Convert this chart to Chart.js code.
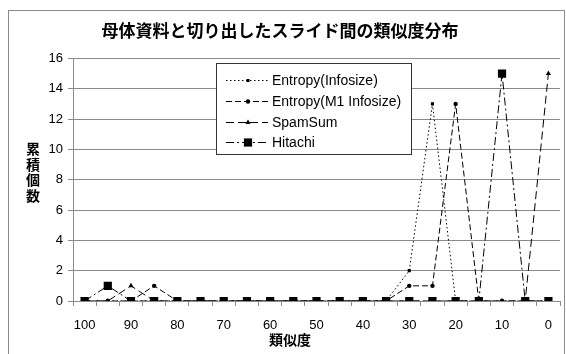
<!DOCTYPE html>
<html>
<head>
<meta charset="utf-8">
<script src="https://cdn.jsdelivr.net/npm/chart.js@4/dist/chart.umd.min.js"></script>
<style>
  html, body { margin: 0; padding: 0; background: #fff; }
  #wrap { position: relative; width: 566px; height: 354px; }
</style>
</head>
<body>
<div id="wrap"><canvas id="c" width="566" height="354"></canvas></div>
<script>
// Similarity buckets (100 → 0, step 5)
const categories = [100, 95, 90, 85, 80, 75, 70, 65, 60, 55, 50, 45, 40, 35, 30, 25, 20, 15, 10, 5, 0];
// Cumulative counts per method
const entropyInfosize   = [0, 0, 0, 0, 0, 0, 0, 0, 0, 0, 0, 0, 0, 0, 2, 13, 0, 0, 0, 0, 0];
const entropyM1Infosize = [0, 0, 0, 1, 0, 0, 0, 0, 0, 0, 0, 0, 0, 0, 1, 1, 13, 0, 0, 0, 0];
const spamSum           = [0, 0, 1, 0, 0, 0, 0, 0, 0, 0, 0, 0, 0, 0, 0, 0, 0, 0, 0, 0, 15];
const hitachi           = [0, 1, 0, 0, 0, 0, 0, 0, 0, 0, 0, 0, 0, 0, 0, 0, 0, 0, 15, 0, 0];
const yTicks = [0, 2, 4, 6, 8, 10, 12, 14, 16];

const titleText = '母体資料と切り出したスライド間の類似度分布';
const xTitle = '類似度';
const yTitle = '累積個数';

const JP = '"Noto Sans CJK JP", sans-serif';
const LAT = '"Liberation Sans", Arial, sans-serif';

const datasets = [
  { label: 'Entropy(Infosize)', data: entropyInfosize, borderDash: [1.5, 2.5],
    pointStyle: 'rect', pointRadius: 2.2, order: 3 },
  { label: 'Entropy(M1 Infosize)', data: entropyM1Infosize, borderDash: [6, 3],
    pointStyle: 'circle', pointRadius: 2.2, order: 2 },
  { label: 'SpamSum', data: spamSum, borderDash: [8, 4],
    pointStyle: 'triangle', pointRadius: 3, order: 1 },
  { label: 'Hitachi', data: hitachi, borderDash: [8, 3, 2, 3],
    pointStyle: 'rect', pointRadius: 5.8, order: 0 }
].map(d => Object.assign({
  borderColor: '#000', backgroundColor: '#000', pointBackgroundColor: '#000',
  pointBorderColor: '#000', pointBorderWidth: 0, borderWidth: 1, tension: 0, fill: false
}, d));

// Frame, axis titles (upright stacked y title) and boxed legend
const decor = {
  id: 'decor',
  beforeDraw(chart) {
    const ctx = chart.ctx;
    ctx.save();
    ctx.fillStyle = '#fff';
    ctx.fillRect(0, 0, chart.width, chart.height);
    ctx.strokeStyle = '#8a8a8a';
    ctx.lineWidth = 1;
    ctx.strokeRect(8.5, 10.5, 556, 400);
    ctx.restore();
  },
  afterDraw(chart) {
    const ctx = chart.ctx;
    ctx.save();
    ctx.fillStyle = '#000';
    ctx.font = 'bold 14px ' + JP;
    ctx.textAlign = 'center';
    ctx.textBaseline = 'middle';
    ctx.fillText(xTitle, 290, 340);
    const chars = Array.from(yTitle);
    const step = 15.5;
    const y0 = 172 - step * (chars.length - 1) / 2;
    chars.forEach((ch, i) => ctx.fillText(ch, 33, y0 + i * step));

    // legend box
    const bx = 216.5, by = 63.5, bw = 195, bh = 91;
    ctx.fillStyle = '#fff';
    ctx.fillRect(bx, by, bw, bh);
    ctx.strokeStyle = '#333';
    ctx.lineWidth = 1;
    ctx.strokeRect(bx, by, bw, bh);
    const rows = [80, 101, 122, 142];
    chart.data.datasets.forEach((ds, i) => {
      const y = rows[i];
      ctx.save();
      ctx.strokeStyle = '#000';
      ctx.lineWidth = 1;
      ctx.setLineDash(ds.borderDash);
      ctx.beginPath();
      ctx.moveTo(226, y + 0.5);
      ctx.lineTo(268, y + 0.5);
      ctx.stroke();
      ctx.restore();
      ctx.fillStyle = '#000';
      Chart.helpers.drawPoint(ctx, {
        pointStyle: ds.pointStyle, radius: ds.pointRadius, rotation: 0, borderWidth: 0
      }, 248, y + 0.5);
      ctx.fillStyle = '#000';
      ctx.font = '14px ' + LAT;
      ctx.textAlign = 'left';
      ctx.textBaseline = 'middle';
      ctx.fillText(ds.label, 272, y + 1);
    });
    ctx.restore();
  }
};

new Chart(document.getElementById('c'), {
  type: 'line',
  data: { labels: categories, datasets },
  options: {
    responsive: false,
    animation: false,
    devicePixelRatio: 1,
    layout: { padding: { left: 0, right: 6, top: 0, bottom: 0 } },
    plugins: {
      legend: { display: false },
      tooltip: { enabled: false },
      title: {
        display: true, text: titleText, color: '#000',
        font: { family: JP, size: 17, weight: 'bold', lineHeight: 1.2 },
        padding: { top: 20, bottom: 18 }
      }
    },
    scales: {
      x: {
        offset: true,
        afterFit(s) { s.height = 53; },
        grid: { offset: true, drawOnChartArea: false, drawTicks: true, tickLength: 5, color: '#8a8a8a' },
        border: { display: true, color: '#8a8a8a' },
        ticks: {
          autoSkip: false, maxRotation: 0, padding: 12, color: '#000',
          font: { family: LAT, size: 13 },
          callback(v, i) { return i % 2 === 0 ? categories[i] : ''; }
        }
      },
      y: {
        min: 0, max: 16,
        afterFit(s) { s.width = 73; },
        afterBuildTicks(s) { s.ticks = yTicks.map(v => ({ value: v })); },
        grid: { color: '#8a8a8a', tickLength: 5 },
        border: { display: true, color: '#8a8a8a' },
        ticks: { padding: 5, color: '#000', font: { family: LAT, size: 13 } }
      }
    }
  },
  plugins: [decor]
});
</script>
</body>
</html>
